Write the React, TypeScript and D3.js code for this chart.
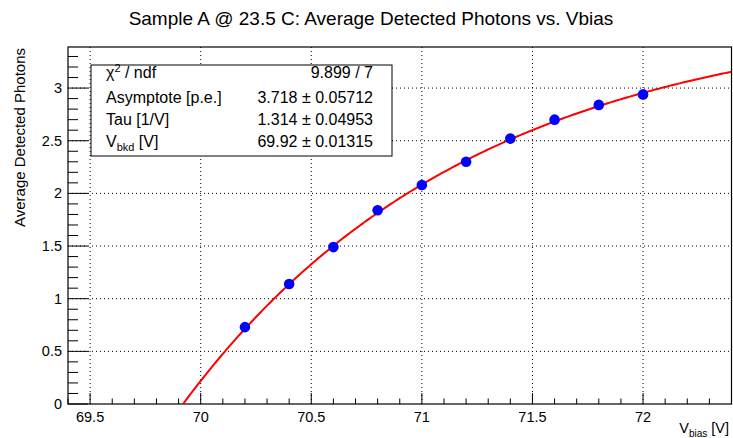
import React from "react";
import * as d3 from "d3";

const vbias = [70.2, 70.4, 70.6, 70.8, 71.0, 71.2, 71.4, 71.6, 71.8, 72.0];
const photons = [0.73, 1.14, 1.49, 1.84, 2.08, 2.3, 2.52, 2.7, 2.84, 2.94];
const xTicks = [69.5, 70, 70.5, 71, 71.5, 72];
const yTicks = [0, 0.5, 1, 1.5, 2, 2.5, 3];
const fitAsymptote = 3.718;
const fitTau = 1.314;
const fitVbkd = 69.92;
const statLabels = ["Asymptote [p.e.]", "Tau [1/V]"];
const statValues = ["3.718", "1.314", "69.92"];
const statErrors = ["0.05712", "0.04953", "0.01315"];

const W = 733, H = 438;
const L = 68, R = 731.5, T = 47, B = 404;
const FONT = "'Liberation Sans', Arial, Helvetica, sans-serif";

export default function App() {
  const x = d3.scaleLinear().domain([69.4, 72.4]).range([L, R]);
  const y = d3.scaleLinear().domain([0, 3.39]).range([B, T]);
  const fit = (v: number) => fitAsymptote * (1 - Math.exp(-(v - fitVbkd) / fitTau));
  const curveX = d3.range(fitVbkd, 72.4001, 0.01);
  const line = d3.line<number>().x((v) => x(v)).y((v) => y(Math.max(0, fit(v))));
  const xMinor = d3.range(69.4, 72.4001, 0.1);
  const yMinor = d3.range(0, 3.3901, 0.1);
  const isMajor = (v: number) => Math.abs(v * 2 - Math.round(v * 2)) < 1e-6;

  const rows = [73, 98, 120, 142];
  return (
    <svg width={W} height={H} style={{ position: "absolute", left: 0, top: 0, background: "#fff" }} fontFamily={FONT}>
      <rect x={0} y={0} width={W} height={H} fill="#fff" />
      <defs>
        <clipPath id="frame">
          <rect x={L} y={T} width={R - L} height={B - T} />
        </clipPath>
      </defs>
      {/* grid */}
      {xTicks.map((v) => (
        <line key={"gx" + v} x1={x(v)} x2={x(v)} y1={B} y2={T} stroke="#000" strokeWidth={1} strokeDasharray="1,3" />
      ))}
      {yTicks.filter((v) => v > 0).map((v) => (
        <line key={"gy" + v} x1={L} x2={R} y1={y(v)} y2={y(v)} stroke="#000" strokeWidth={1} strokeDasharray="1,3" />
      ))}
      {/* ticks */}
      {xMinor.map((v, i) => {
        const major = isMajor(v);
        return <line key={"tx" + i} x1={x(v)} x2={x(v)} y1={B} y2={B - (major ? 11 : 5.5)} stroke="#000" strokeWidth={1} />;
      })}
      {yMinor.map((v, i) => {
        const major = isMajor(v);
        return <line key={"ty" + i} x1={L} x2={L + (major ? 20 : 10)} y1={y(v)} y2={y(v)} stroke="#000" strokeWidth={1} />;
      })}
      {/* frame */}
      <rect x={L} y={T} width={R - L} height={B - T} fill="none" stroke="#000" strokeWidth={1.2} />
      {/* tick labels */}
      {xTicks.map((v) => (
        <text key={"lx" + v} x={x(v)} y={422} fontSize={14.5} textAnchor="middle" fill="#000">{String(v)}</text>
      ))}
      {yTicks.map((v) => (
        <text key={"ly" + v} x={62} y={y(v) + 5} fontSize={14.5} textAnchor="end" fill="#000">{String(v)}</text>
      ))}
      {/* axis titles */}
      <text x={729} y={433} fontSize={14.5} textAnchor="end" fill="#000">
        V<tspan fontSize={10} dy={4}>bias</tspan><tspan dy={-4}> [V]</tspan>
      </text>
      <text transform="translate(25,48) rotate(-90)" fontSize={15} textAnchor="end" fill="#000">Average Detected Photons</text>
      {/* title */}
      <text x={371} y={25} fontSize={19} textAnchor="middle" fill="#000">Sample A @ 23.5 C: Average Detected Photons vs. Vbias</text>
      {/* fit curve */}
      <g clipPath="url(#frame)">
        <path d={line(curveX) || ""} fill="none" stroke="#ff0000" strokeWidth={2} />
      </g>
      {/* points */}
      {vbias.map((v, i) => (
        <circle key={"p" + i} cx={x(v)} cy={y(photons[i])} r={5.3} fill="#0000ff" />
      ))}
      {/* stats box */}
      <rect x={91} y={65} width={301} height={91} fill="#fff" stroke="#000" strokeWidth={1} />
      <g fontSize={16} fill="#000">
        <text x={106} y={rows[0] + 5}>χ<tspan fontSize={11} dy={-6}>2</tspan><tspan dy={6}> / ndf</tspan></text>
        <text x={373} y={rows[0] + 5} textAnchor="end">9.899 / 7</text>
        {statLabels.map((s, i) => (
          <text key={"sl" + i} x={106} y={rows[i + 1] + 5}>{s}</text>
        ))}
        <text x={106} y={rows[3] + 5}>V<tspan fontSize={11} dy={4}>bkd</tspan><tspan dy={-4}> [V]</tspan></text>
        {statValues.map((s, i) => (
          <text key={"sv" + i} x={373} y={rows[i + 1] + 5} textAnchor="end">{s} ± {statErrors[i]}</text>
        ))}
      </g>
    </svg>
  );
}
